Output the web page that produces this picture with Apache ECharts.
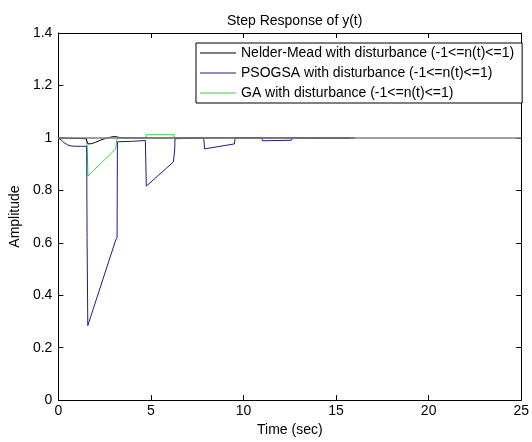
<!DOCTYPE html>
<html>
<head>
<meta charset="utf-8">
<script src="https://cdn.jsdelivr.net/npm/echarts@6/dist/echarts.min.js"></script>
<style>
html,body{margin:0;padding:0;background:#fff;}
#chart{width:532px;height:442px;}
</style>
</head>
<body>
<div id="chart"></div>
<script>
// ---- data ----
const titleText = 'Step Response of y(t)';
const xName = 'Time (sec)';
const yName = 'Amplitude';
const seriesNames = [
  'Nelder-Mead with disturbance (-1<=n(t)<=1)',
  'PSOGSA with disturbance (-1<=n(t)<=1)',
  'GA with disturbance (-1<=n(t)<=1)'
];
const xTicks = [0, 5, 10, 15, 20, 25];
const yTicks = [0, 0.2, 0.4, 0.6, 0.8, 1, 1.2, 1.4];
const referenceLevel = 1;

const nelderT = [0, 1.50, 1.55, 1.60, 1.80, 2.00, 2.30, 2.60, 2.90, 3.10, 3.30, 3.60, 16];
const nelderY = [1.0, 0.997, 0.985, 0.977, 0.978, 0.983, 0.992, 0.999, 1.004, 1.005, 1.001, 1.0, 1.0];

const psoT = [0, 0.15, 0.30, 0.50, 0.70, 0.90, 1.20, 1.53, 1.55, 1.59, 3.10, 3.17, 3.19, 4.00, 4.70, 4.75, 6.21, 6.28, 6.30, 7.85, 7.90, 9.51, 9.55, 10.99, 11.02, 12.60, 12.63, 14.14, 15.74, 15.77];
const psoY = [1.0, 0.992, 0.982, 0.973, 0.969, 0.968, 0.968, 0.968, 0.62, 0.284, 0.611, 0.62, 0.985, 0.987, 0.990, 0.816, 0.908, 0.95, 0.997, 0.999, 0.958, 0.977, 1.0, 1.0, 0.989, 0.991, 1.0, 0.998, 0.998, 1.0];

const gaT = [0, 1.53, 1.57, 1.60, 3.10, 3.15, 3.20, 4.72, 4.75, 6.25, 6.28, 16];
const gaY = [0.998, 0.997, 0.93, 0.855, 0.958, 0.99, 1.0, 1.0, 1.012, 1.012, 1.0, 1.0];

const zip = (t, y) => t.map((v, i) => [v, y[i]]);

const font = 'Liberation Sans, Arial, Helvetica, sans-serif';
const chart = echarts.init(document.getElementById('chart'), null, {renderer: 'canvas'});

const axisCommon = {
  axisLine: {show: true, onZero: false, lineStyle: {color: '#000', width: 1}},
  axisTick: {show: true, inside: true, length: 5, lineStyle: {color: '#000'}},
  splitLine: {show: false}
};

chart.setOption({
  animation: false,
  backgroundColor: '#fff',
  title: {
    text: titleText,
    left: 222, top: 9,
    textStyle: {fontFamily: font, fontSize: 14, fontWeight: 'normal', color: '#000'}
  },
  legend: {
    orient: 'vertical',
    left: 196, top: 43,
    padding: [2, 8, 2, 4],
    itemGap: 4,
    itemWidth: 36, itemHeight: 1,
    icon: 'rect',
    backgroundColor: '#fff',
    borderColor: '#000', borderWidth: 1,
    textStyle: {fontFamily: font, fontSize: 14, color: '#000', lineHeight: 16},
    data: seriesNames
  },
  grid: {left: 57, right: 7, top: 33, bottom: 38, containLabel: false},
  xAxis: [
    Object.assign({
      type: 'value', position: 'bottom',
      min: xTicks[0], max: xTicks[xTicks.length - 1], interval: 5,
      name: xName, nameLocation: 'middle', nameGap: 22,
      nameTextStyle: {fontFamily: font, fontSize: 14, color: '#000'},
      axisLabel: {fontFamily: font, fontSize: 14, color: '#000', margin: 4}
    }, axisCommon),
    Object.assign({
      type: 'value', position: 'top',
      min: xTicks[0], max: xTicks[xTicks.length - 1], interval: 5,
      axisLabel: {show: false}
    }, axisCommon)
  ],
  yAxis: [
    Object.assign({
      type: 'value', position: 'left',
      min: yTicks[0], max: yTicks[yTicks.length - 1], interval: 0.2,
      name: yName, nameLocation: 'middle', nameGap: 29,
      nameTextStyle: {fontFamily: font, fontSize: 14, color: '#000'},
      axisLabel: {fontFamily: font, fontSize: 14, color: '#000', margin: 6,
        formatter: v => String(Math.round(v * 10) / 10)}
    }, axisCommon),
    Object.assign({
      type: 'value', position: 'right',
      min: yTicks[0], max: yTicks[yTicks.length - 1], interval: 0.2,
      axisLabel: {show: false}
    }, axisCommon)
  ],
  series: [
    {
      name: seriesNames[0], type: 'line', showSymbol: false, symbol: 'none',
      data: zip(nelderT, nelderY),
      lineStyle: {color: '#000', width: 1}, itemStyle: {color: '#000'}, z: 4,
      markLine: {
        silent: true, symbol: 'none', label: {show: false},
        lineStyle: {color: '#808080', width: 1.5, type: 'solid'},
        data: [{yAxis: referenceLevel}]
      }
    },
    {
      name: seriesNames[1], type: 'line', showSymbol: false, symbol: 'none',
      data: zip(psoT, psoY),
      lineStyle: {color: '#1c1c86', width: 1}, itemStyle: {color: '#1c1c86'}, z: 3
    },
    {
      name: seriesNames[2], type: 'line', showSymbol: false, symbol: 'none',
      data: zip(gaT, gaY),
      lineStyle: {color: '#44cc44', width: 1}, itemStyle: {color: '#44cc44'}, z: 2
    }
  ]
});
</script>
</body>
</html>
